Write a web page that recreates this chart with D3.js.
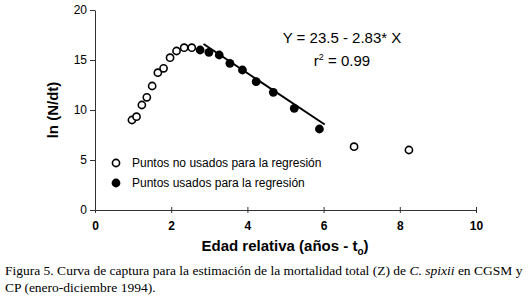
<!DOCTYPE html>
<html><head><meta charset="utf-8">
<script src="https://cdn.jsdelivr.net/npm/d3@7"></script>
<style>body{margin:0;background:#fff}svg{display:block}</style>
</head><body>
<script>
const openX = [0.97,1.09,1.23,1.36,1.50,1.65,1.80,1.97,2.14,2.34,2.54,6.80,8.24];
const openY = [9.0,9.33,10.5,11.27,12.4,13.73,14.17,15.23,15.9,16.23,16.23,6.33,6.0];
const fillX = [2.76,2.99,3.26,3.54,3.87,4.23,4.68,5.23,5.89];
const fillY = [16.0,15.77,15.5,14.67,14.0,12.83,11.77,10.17,8.1];
const lineX = [2.85,6.03];
const lineY = [16.6,8.55];
const xTicks = [0,2,4,6,8,10];
const yTicks = [0,5,10,15,20];

const W=529,H=300;
const svg=d3.select("body").append("svg").attr("width",W).attr("height",H);
const x=d3.scaleLinear().domain([0,10]).range([95,476]);
const y=d3.scaleLinear().domain([0,20]).range([210,10]);
const sans="Arial, 'Liberation Sans', sans-serif";

const gx=svg.append("g").attr("transform","translate(0,210)")
  .call(d3.axisBottom(x).tickValues(xTicks).tickSize(3).tickSizeOuter(0).tickFormat(d3.format("d")));
gx.selectAll(".tick line").attr("y1",-3).attr("y2",3);
const gy=svg.append("g").attr("transform","translate(95,0)")
  .call(d3.axisLeft(y).tickValues(yTicks).tickSize(5).tickSizeOuter(0).tickFormat(d3.format("d")));
[gx,gy].forEach(g=>{
  g.select(".domain").attr("stroke","#333").attr("stroke-width",1);
  g.selectAll(".tick line").attr("stroke","#333");
  g.selectAll("text").attr("font-family",sans).attr("font-size",12).attr("fill","#000");
});
gx.selectAll("text").attr("dy","0.71em").attr("y",11).attr("font-weight","bold");
gy.selectAll("text").attr("x",-8);

svg.append("line").attr("x1",x(lineX[0])).attr("y1",y(lineY[0]))
  .attr("x2",x(lineX[1])).attr("y2",y(lineY[1])).attr("stroke","#000").attr("stroke-width",2);

svg.append("g").selectAll("circle").data(openX.map((d,i)=>[d,openY[i]])).join("circle")
  .attr("cx",d=>x(d[0])).attr("cy",d=>y(d[1])).attr("r",3.6)
  .attr("fill","#fff").attr("stroke","#000").attr("stroke-width",1.6);
svg.append("g").selectAll("circle").data(fillX.map((d,i)=>[d,fillY[i]])).join("circle")
  .attr("cx",d=>x(d[0])).attr("cy",d=>y(d[1])).attr("r",4.4).attr("fill","#000");

// legend
svg.append("circle").attr("cx",116).attr("cy",163).attr("r",3.6).attr("fill","#fff").attr("stroke","#000").attr("stroke-width",1.6);
svg.append("circle").attr("cx",116).attr("cy",183).attr("r",4.4).attr("fill","#000");
svg.append("text").attr("x",132).attr("y",167).attr("font-family",sans).attr("font-size",12).text("Puntos no usados para la regresión");
svg.append("text").attr("x",132).attr("y",187).attr("font-family",sans).attr("font-size",12).text("Puntos usados para la regresión");

// equation
svg.append("text").attr("x",342).attr("y",43).attr("text-anchor","middle").attr("font-family",sans).attr("font-size",15).text("Y = 23.5 - 2.83* X");
const r2=svg.append("text").attr("x",342).attr("y",66).attr("text-anchor","middle").attr("font-family",sans).attr("font-size",15);
r2.append("tspan").text("r");
r2.append("tspan").attr("font-size",9).attr("dy",-6).text("2");
r2.append("tspan").attr("dy",6).text(" = 0.99");

// axis titles
svg.append("text").attr("transform","translate(58,110) rotate(-90)").attr("text-anchor","middle")
  .attr("font-family",sans).attr("font-weight","bold").attr("font-size",15).text("ln (N/dt)");
const xt=svg.append("text").attr("x",285).attr("y",251).attr("text-anchor","middle")
  .attr("font-family",sans).attr("font-weight","bold").attr("font-size",15);
xt.append("tspan").text("Edad relativa (años - t");
xt.append("tspan").attr("font-size",10).attr("dy",4).text("o");
xt.append("tspan").attr("dy",-4).text(")");

// caption
const serif="'Times New Roman','Liberation Serif',serif";
const c1=svg.append("text").attr("x",5).attr("y",275).attr("font-family",serif).attr("font-size",13.5);
c1.append("tspan").text("Figura 5. Curva de captura para la estimación de la mortalidad total (Z) de ");
c1.append("tspan").attr("font-style","italic").text("C. spixii");
c1.append("tspan").text(" en CGSM y");
svg.append("text").attr("x",5).attr("y",292).attr("font-family",serif).attr("font-size",13.5).text("CP (enero-diciembre 1994).");
</script>
</body></html>
